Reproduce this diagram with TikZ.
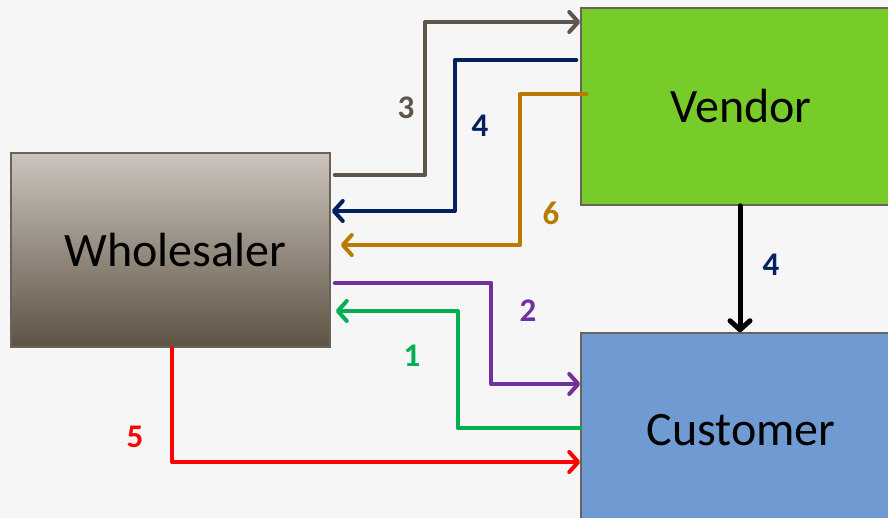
\documentclass[tikz,border=0pt]{standalone}
\usepackage{fontspec}
\setmainfont{Carlito}
\usetikzlibrary{arrows.meta}

\definecolor{bgcol}{HTML}{F6F6F6}
\definecolor{wtop}{HTML}{CCC4BD}
\definecolor{wbot}{HTML}{5E5344}
\definecolor{edgecol}{HTML}{6A635A}
\definecolor{vendcol}{HTML}{77CC29}
\definecolor{custcol}{HTML}{6F9AD2}
\definecolor{col3}{HTML}{5E564C}
\definecolor{col4}{HTML}{002060}
\definecolor{col6}{HTML}{B87B00}
\definecolor{col2}{HTML}{7030A0}
\definecolor{col1}{HTML}{00B050}
\definecolor{col5}{HTML}{FF0000}

\begin{document}
\begin{tikzpicture}[x=1pt,y=-1pt]
 \tikzstyle{party}=[rectangle, draw=edgecol, line width=1.5pt, text=black, font=\fontsize{48}{54}\selectfont, inner sep=0pt]
 \tikzstyle{flux}=[line width=4pt, line cap=round, line join=round, -{Straight Barb[length=9pt,width=20pt,round]}]
 \tikzstyle{num}=[font=\fontsize{33}{38}\selectfont\bfseries]
 %
 \useasboundingbox (0,0) rectangle (888,518);
 \clip (0,0) rectangle (888,518);
 \fill[bgcol] (0,0) rectangle (888,518);
 %
 \node[party, minimum width=319, minimum height=194, top color=wtop, bottom color=wbot] (who) at (170.5, 250) {\hspace{10pt}Wholesaler};
 \node[party, minimum width=320, minimum height=197, fill=vendcol] (ven) at (741, 106.5) {Vendor};
 \node[party, minimum width=320, minimum height=194, fill=custcol] (cus) at (741, 430) {Customer};
 %
 \node[num, text=col3] (n3) at (406, 108) {3};
 \node[num, text=col4] (n4a) at (480, 126) {4};
 \node[num, text=col6] (n6) at (551, 213) {6};
 \node[num, text=col2] (n2) at (528, 311) {2};
 \node[num, text=col1] (n1) at (412, 356) {1};
 \node[num, text=col5] (n5) at (135, 437) {5};
 \node[num, text=col4] (n4b) at (771, 265) {4};
 %%
 \draw[flux, col3] ([shift={(4,-75)}]who.east) -| ([shift={(-155,-84.5)}]ven.west) -- ([yshift=84.5]ven.west);
 \draw[flux, col4] ([shift={(-4,-46.5)}]ven.west) -| ([shift={(124,-39)}]who.east) -- ([shift={(1,-39)}]who.east);
 \draw[flux, col6] ([shift={(6,-12.5)}]ven.west) -| ([shift={(189,-5)}]who.east) -- ([shift={(10,-5)}]who.east);
 \draw[flux, col2] ([shift={(4,33)}]who.east) -| ([shift={(-89,-46)}]cus.west) -- ([yshift=46]cus.west);
 \draw[flux, col1] ([yshift=2]cus.west) -| ([shift={(127,61)}]who.east) -- ([shift={(5,61)}]who.east);
 \draw[flux, col5] ([xshift=1.5]who.south) |- ([yshift=-32]cus.west);
 \draw[flux, black, line width=5pt] ([xshift=-1]ven.south) -- ([xshift=-1]cus.north);
\end{tikzpicture}
\end{document}
